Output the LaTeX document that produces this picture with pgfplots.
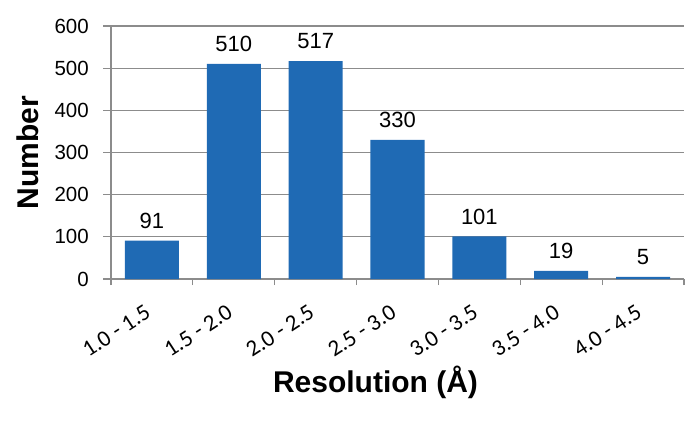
\documentclass[border=0pt]{standalone}
\usepackage{pgfplots}
\pgfplotsset{compat=1.18}
\usepackage{fontspec}
\setmainfont{Liberation Sans}
\newfontfamily\calibri{Carlito}
\definecolor{barblue}{RGB}{31,106,180}
\definecolor{gridgray}{RGB}{140,140,140}
\begin{document}
\begin{tikzpicture}
\path[use as bounding box] (-111pt,-142pt) rectangle (589pt,279pt);
\begin{axis}[
  at={(0,0)}, anchor=south west,
  scale only axis, width=573pt, height=253pt,
  xmin=-0.5, xmax=6.5, ymin=0, ymax=600,
  ytick={0,100,...,600},
  xtick={0,...,6},
  xticklabels={1.0 - 1.5,1.5 - 2.0,2.0 - 2.5,2.5 - 3.0,3.0 - 3.5,3.5 - 4.0,4.0 - 4.5},
  minor xtick={-0.5,0.5,...,6.5},
  axis lines*=left,
  axis line style={gridgray, line width=1.2pt},
  ymajorgrids, grid style={gridgray, line width=1.2pt},
  tick align=outside,
  major tick length=7.5pt, minor tick length=6pt,
  tick style={gridgray, line width=1.2pt},
  every major x tick/.append style={draw=none},
  /pgf/number format/assume math mode=true,
  yticklabel style={font=\fontsize{20.5}{24}\selectfont, inner sep=0pt, anchor=east, xshift=-14.5pt},
  xticklabel style={font=\calibri\fontsize{23}{27}\selectfont, yshift=-17pt, xshift=-8pt, rotate=33, anchor=north east, inner sep=0pt},
  xlabel={Resolution (Å)},
  xlabel style={font=\bfseries\fontsize{30}{36}\selectfont, at={(axis description cs:0.5,0)}, anchor=base, xshift=-22pt, yshift=-113.7pt},
  ylabel={Number},
  ylabel style={font=\bfseries\fontsize{30}{36}\selectfont, at={(axis description cs:0,0.5)}, anchor=center, yshift=83.5pt},
]
\addplot[ybar, bar width=54pt, fill=barblue, draw=none,
  nodes near coords,
  every node near coord/.append style={font=\fontsize{22}{26}\selectfont, black, inner sep=0pt, anchor=south, yshift=11.7pt}]
  coordinates {(0,91)(1,510)(2,517)(3,330)(4,101)(5,19)(6,5)};
\end{axis}
\end{tikzpicture}
\end{document}
